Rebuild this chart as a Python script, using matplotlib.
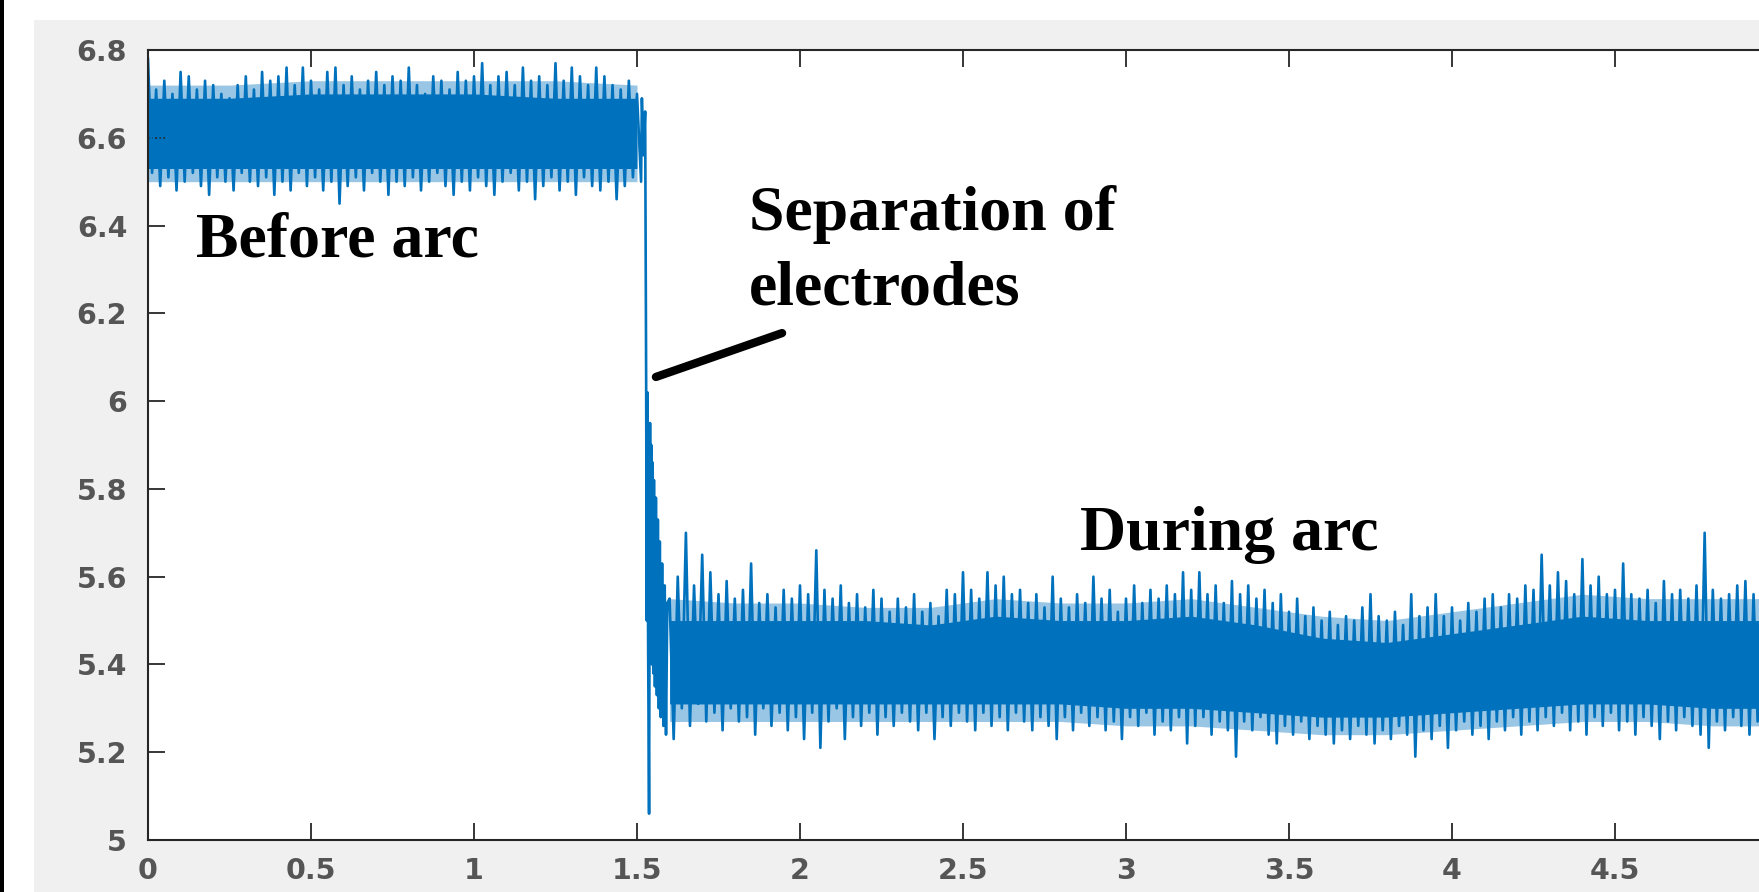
import matplotlib
matplotlib.use("Agg")
import matplotlib.pyplot as plt
from matplotlib.patches import Rectangle
import numpy as np

# signal envelope (alternating peak / trough values)
t_before = np.linspace(0, 1.5, 61)
before_hi = [6.78, 6.71, 6.73, 6.70, 6.75, 6.74, 6.71, 6.73, 6.72, 6.70,
             6.69, 6.72, 6.74, 6.71, 6.75, 6.73, 6.74, 6.76, 6.72, 6.76,
             6.73, 6.71, 6.75, 6.76, 6.72, 6.74, 6.71, 6.73, 6.75, 6.72,
             6.74, 6.73, 6.76, 6.72, 6.70, 6.74, 6.73, 6.71, 6.75, 6.73,
             6.74, 6.77, 6.72, 6.74, 6.75, 6.72, 6.76, 6.73, 6.74, 6.72,
             6.77, 6.73, 6.76, 6.74, 6.72, 6.76, 6.74, 6.72, 6.71, 6.73, 6.70]
before_lo = [6.52, 6.49, 6.51, 6.48, 6.50, 6.52, 6.49, 6.47, 6.51, 6.50,
             6.48, 6.52, 6.50, 6.49, 6.51, 6.47, 6.50, 6.48, 6.52, 6.49,
             6.51, 6.48, 6.50, 6.45, 6.49, 6.51, 6.48, 6.52, 6.50, 6.47,
             6.50, 6.49, 6.51, 6.48, 6.50, 6.52, 6.49, 6.47, 6.50, 6.48,
             6.51, 6.49, 6.47, 6.50, 6.52, 6.48, 6.50, 6.46, 6.49, 6.51,
             6.48, 6.50, 6.47, 6.51, 6.49, 6.48, 6.50, 6.46, 6.49, 6.51, 6.50]

# the drop when the electrodes separate
trans_t = [1.515, 1.520, 1.525, 1.528, 1.530, 1.532, 1.534, 1.537, 1.540, 1.542,
           1.544, 1.546, 1.548, 1.550, 1.552, 1.555, 1.558, 1.561, 1.564, 1.567,
           1.570, 1.573, 1.577, 1.581, 1.585, 1.589, 1.593]
trans_v = [6.69, 6.56, 6.66, 6.06, 5.50, 6.02, 5.46, 5.06, 5.95, 5.44,
           5.90, 5.40, 5.86, 5.38, 5.82, 5.35, 5.78, 5.33, 5.73, 5.30,
           5.68, 5.28, 5.63, 5.26, 5.58, 5.24, 5.54]

t_after = np.linspace(1.6, 5.0, 137)
after_hi = [5.55, 5.60, 5.70, 5.58, 5.65, 5.61, 5.56, 5.59, 5.55, 5.57,
            5.63, 5.54, 5.56, 5.53, 5.57, 5.55, 5.58, 5.56, 5.66, 5.57,
            5.55, 5.58, 5.54, 5.56, 5.53, 5.57, 5.55, 5.52, 5.55, 5.53,
            5.56, 5.52, 5.54, 5.51, 5.57, 5.56, 5.61, 5.57, 5.55, 5.61,
            5.58, 5.60, 5.56, 5.57, 5.54, 5.56, 5.53, 5.60, 5.55, 5.53,
            5.56, 5.54, 5.60, 5.55, 5.57, 5.52, 5.55, 5.58, 5.54, 5.57,
            5.55, 5.58, 5.56, 5.61, 5.57, 5.61, 5.56, 5.58, 5.54, 5.59,
            5.56, 5.58, 5.55, 5.57, 5.54, 5.56, 5.52, 5.55, 5.51, 5.53,
            5.50, 5.52, 5.49, 5.51, 5.50, 5.53, 5.56, 5.51, 5.50, 5.52,
            5.49, 5.56, 5.51, 5.53, 5.56, 5.51, 5.53, 5.50, 5.54, 5.52,
            5.55, 5.56, 5.53, 5.56, 5.55, 5.58, 5.57, 5.65, 5.58, 5.61,
            5.59, 5.56, 5.64, 5.58, 5.60, 5.56, 5.57, 5.63, 5.56, 5.55,
            5.57, 5.54, 5.59, 5.56, 5.57, 5.55, 5.58, 5.70, 5.57, 5.55,
            5.56, 5.58, 5.59, 5.56, 5.57, 5.55, 5.56]
after_lo = [5.23, 5.30, 5.26, 5.31, 5.27, 5.29, 5.25, 5.30, 5.27, 5.28,
            5.24, 5.30, 5.26, 5.29, 5.25, 5.28, 5.23, 5.29, 5.21, 5.27,
            5.30, 5.23, 5.28, 5.26, 5.29, 5.24, 5.28, 5.26, 5.29, 5.27,
            5.25, 5.29, 5.23, 5.28, 5.26, 5.29, 5.27, 5.25, 5.29, 5.26,
            5.28, 5.25, 5.29, 5.27, 5.25, 5.28, 5.26, 5.23, 5.28, 5.25,
            5.29, 5.26, 5.28, 5.25, 5.27, 5.23, 5.28, 5.26, 5.29, 5.24,
            5.27, 5.25, 5.28, 5.22, 5.26, 5.28, 5.24, 5.27, 5.25, 5.19,
            5.27, 5.25, 5.28, 5.24, 5.22, 5.26, 5.24, 5.27, 5.23, 5.26,
            5.24, 5.22, 5.25, 5.23, 5.26, 5.24, 5.22, 5.25, 5.23, 5.26,
            5.24, 5.19, 5.25, 5.23, 5.26, 5.21, 5.25, 5.27, 5.24, 5.26,
            5.23, 5.27, 5.25, 5.28, 5.24, 5.27, 5.25, 5.28, 5.26, 5.29,
            5.25, 5.27, 5.24, 5.28, 5.26, 5.29, 5.25, 5.27, 5.24, 5.28,
            5.26, 5.23, 5.27, 5.25, 5.28, 5.26, 5.24, 5.21, 5.27, 5.25,
            5.28, 5.26, 5.24, 5.27, 5.25, 5.28, 5.26]

# solid core of the noise band and the dense fringe around it
core_t_before = np.linspace(0, 1.5, 7)
core_hi_before = [6.69, 6.69, 6.70, 6.70, 6.70, 6.69, 6.69]
core_lo_before = [6.53, 6.53, 6.53, 6.53, 6.53, 6.53, 6.53]
fringe_hi_before = [6.72, 6.72, 6.73, 6.73, 6.73, 6.73, 6.72]
fringe_lo_before = [6.50, 6.50, 6.50, 6.50, 6.50, 6.50, 6.50]
core_t_after = np.linspace(1.6, 5.0, 18)
core_hi_after = [5.50, 5.50, 5.50, 5.50, 5.49, 5.51, 5.50, 5.50, 5.51, 5.49,
                 5.46, 5.45, 5.47, 5.49, 5.51, 5.50, 5.50, 5.50]
core_lo_after = [5.31, 5.31, 5.31, 5.31, 5.31, 5.31, 5.31, 5.30, 5.30, 5.29,
                 5.28, 5.28, 5.29, 5.30, 5.31, 5.31, 5.30, 5.30]
fringe_hi_after = [5.55, 5.54, 5.54, 5.53, 5.53, 5.55, 5.54, 5.54, 5.55, 5.53,
                   5.51, 5.50, 5.52, 5.54, 5.56, 5.55, 5.55, 5.55]
fringe_lo_after = [5.27, 5.27, 5.27, 5.27, 5.27, 5.27, 5.27, 5.26, 5.26, 5.25,
                   5.24, 5.24, 5.25, 5.26, 5.27, 5.27, 5.26, 5.26]

x_ticks = [0, 0.5, 1, 1.5, 2, 2.5, 3, 3.5, 4, 4.5, 5]
x_labels = ['0', '0.5', '1', '1.5', '2', '2.5', '3', '3.5', '4', '4.5', '5']
y_ticks = [5, 5.2, 5.4, 5.6, 5.8, 6, 6.2, 6.4, 6.6, 6.8]
y_labels = ['5', '5.2', '5.4', '5.6', '5.8', '6', '6.2', '6.4', '6.6', '6.8']

blue = '#0072BD'


def zigzag(t, hi, lo):
    # peaks at t, troughs half a step later
    step = t[1] - t[0]
    xs = np.empty(2 * len(t))
    ys = np.empty(2 * len(t))
    xs[0::2] = t
    xs[1::2] = t + step / 2
    ys[0::2] = hi
    ys[1::2] = lo
    return xs, ys


xb, yb = zigzag(t_before, before_hi, before_lo)
xa, ya = zigzag(t_after, after_hi, after_lo)
x_all = np.concatenate([xb, trans_t, xa])
y_all = np.concatenate([yb, trans_v, ya])

fig = plt.figure(figsize=(17.59, 8.92), dpi=100)
fig.patch.set_facecolor('#f0f0f0')
# screenshot borders
fig.add_artist(Rectangle((0, 872 / 892), 1, 20 / 892, transform=fig.transFigure,
                         facecolor='white', edgecolor='none', zorder=0))
fig.add_artist(Rectangle((0, 0), 34 / 1759, 1, transform=fig.transFigure,
                         facecolor='white', edgecolor='none', zorder=0))
fig.add_artist(Rectangle((0, 0), 4 / 1759, 1, transform=fig.transFigure,
                         facecolor='black', edgecolor='none', zorder=0))

ax = fig.add_axes([148 / 1759, 52 / 892, 1630 / 1759, 790 / 892])
ax.set_facecolor('white')
ax.fill_between(core_t_before, fringe_lo_before, fringe_hi_before, color=blue, lw=0, alpha=0.4)
ax.fill_between(core_t_after, fringe_lo_after, fringe_hi_after, color=blue, lw=0, alpha=0.4)
ax.fill_between(core_t_before, core_lo_before, core_hi_before, color=blue, lw=0)
ax.fill_between(core_t_after, core_lo_after, core_hi_after, color=blue, lw=0)
ax.plot(x_all, y_all, color=blue, lw=1.9)

ax.set_xlim(0, 5)
ax.set_ylim(5, 6.8)
tick_font = dict(fontsize=20.5, fontweight='bold', color='#555555',
                 family=['DejaVu Sans'])
ax.set_xticks(x_ticks)
ax.set_xticklabels(x_labels, **tick_font)
ax.set_yticks(y_ticks)
ax.set_yticklabels(y_labels, **tick_font)
ax.tick_params(direction='in', length=12, width=1.3, color='#262626',
               top=True, right=True)
ax.tick_params(axis='x', pad=12)
ax.tick_params(axis='y', pad=15)
for s in ax.spines.values():
    s.set_color('#262626')
    s.set_linewidth(1.5)

serif = ['Liberation Serif', 'DejaVu Serif']
ax.text(0.147, 6.33, 'Before arc', fontsize=46, fontweight='bold', family=serif)
ax.text(1.844, 6.39, 'Separation of', fontsize=46, fontweight='bold', family=serif)
ax.text(1.844, 6.22, 'electrodes', fontsize=46, fontweight='bold', family=serif)
ax.text(2.86, 5.66, 'During arc', fontsize=46, fontweight='bold', family=serif)
ax.plot([1.558, 1.945], [6.055, 6.155], color='black', lw=6, solid_capstyle='round')

fig.savefig('out.png', dpi=100, facecolor=fig.get_facecolor())
